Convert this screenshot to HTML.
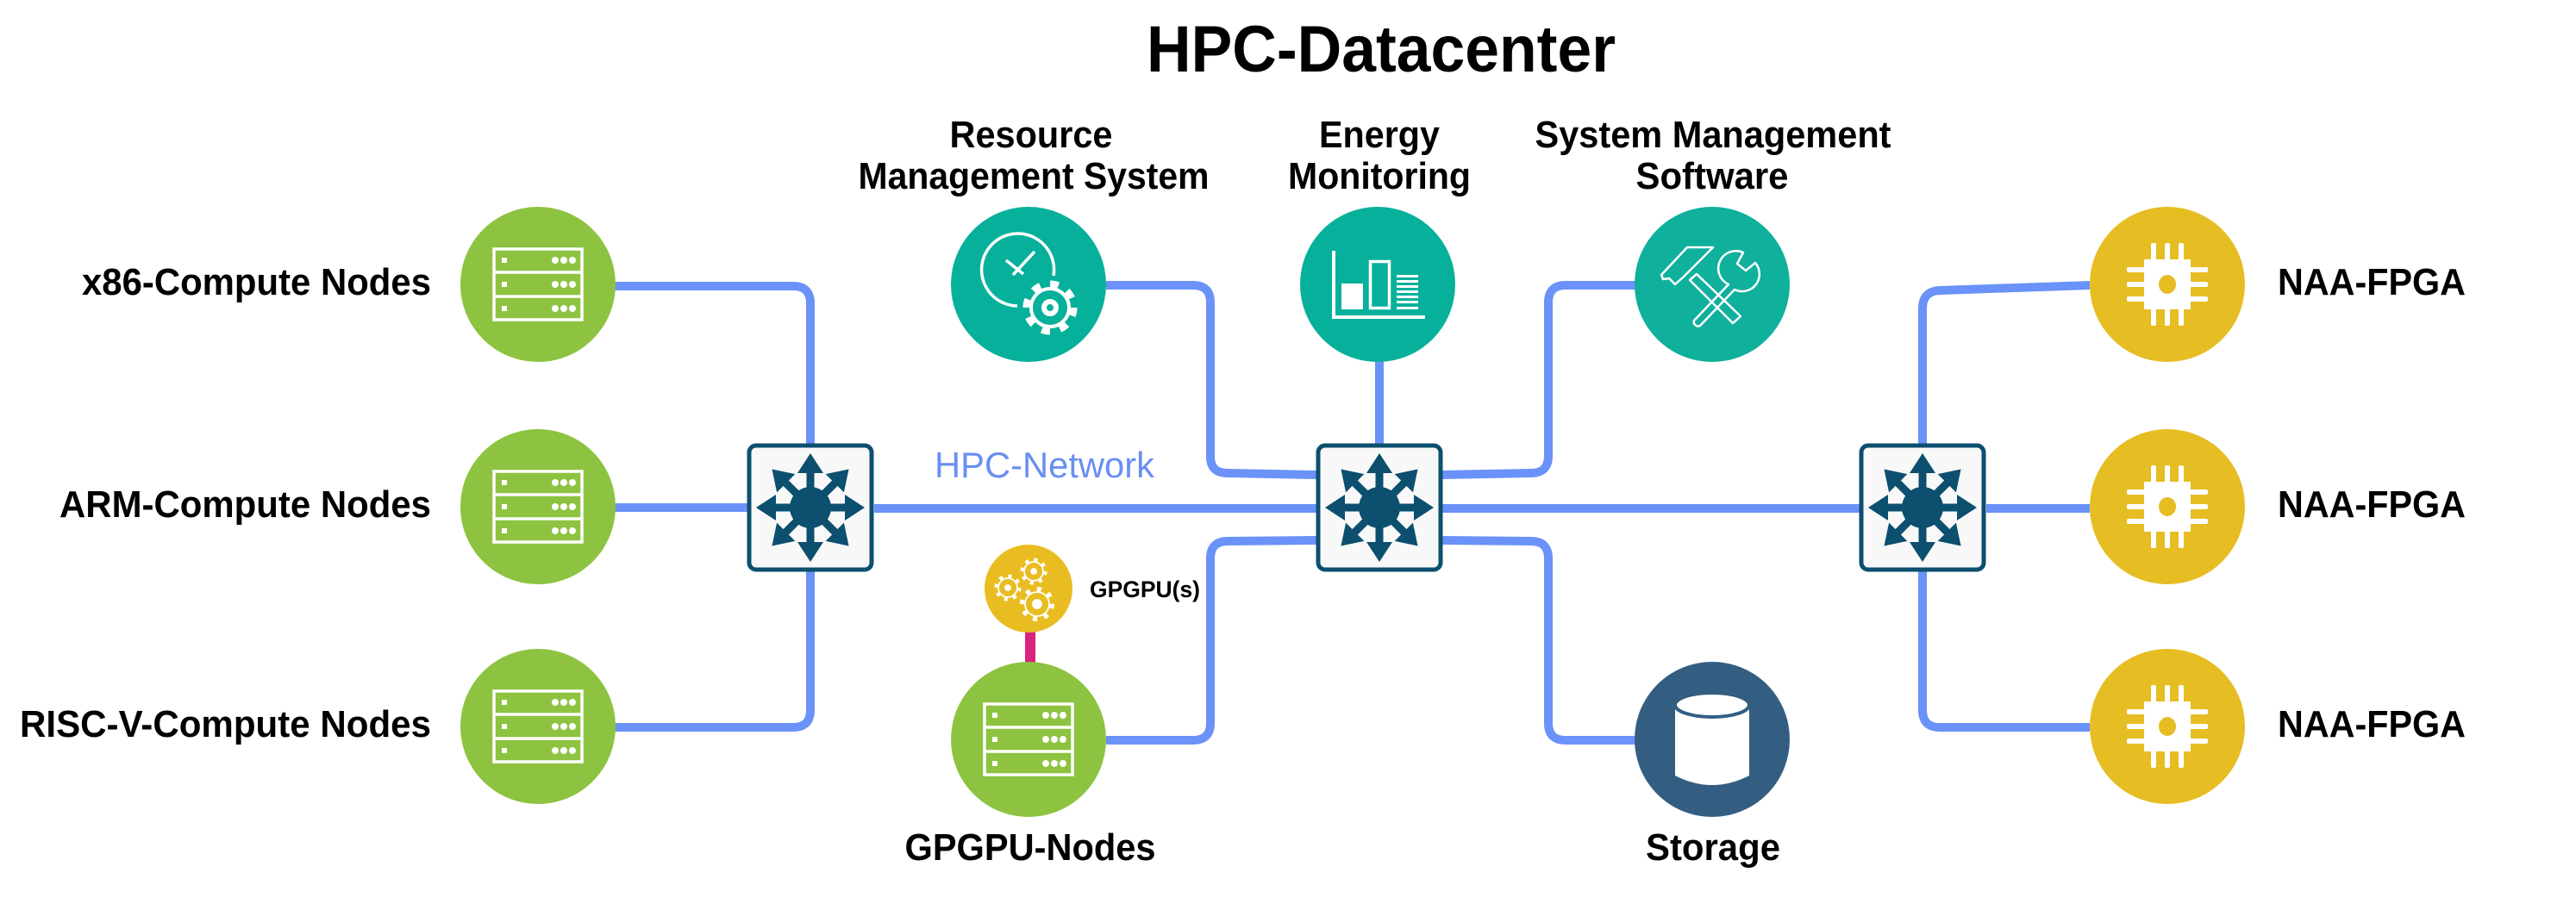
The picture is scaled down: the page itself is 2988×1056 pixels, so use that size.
<!DOCTYPE html>
<html><head><meta charset="utf-8"><style>
html,body{margin:0;padding:0;background:#fff;}
svg{display:block}
text{font-family:"Liberation Sans",Arial,sans-serif;font-weight:bold;fill:#000}
</style></head><body>
<svg width="2988" height="1056" viewBox="0 0 2988 1056" xmlns="http://www.w3.org/2000/svg">
<defs>
 <g id="arrow"><rect x="0" y="-4.5" width="44" height="9"/><polygon points="40,-15 63,0 40,15"/></g>
 <g id="sw">
  <rect x="-71" y="-72" width="142" height="144" rx="8" fill="#f8f8f8" stroke="#0c4f6f" stroke-width="5"/>
  <g fill="#0c4f6f">
   <circle r="24"/>
   <use href="#arrow"/><use href="#arrow" transform="rotate(45)"/><use href="#arrow" transform="rotate(90)"/><use href="#arrow" transform="rotate(135)"/>
   <use href="#arrow" transform="rotate(180)"/><use href="#arrow" transform="rotate(225)"/><use href="#arrow" transform="rotate(270)"/><use href="#arrow" transform="rotate(315)"/>
  </g>
 </g>
 <g id="srv" fill="none" stroke="#fff" stroke-width="3.5">
  <rect x="-51" y="-41" width="102" height="82"/>
  <line x1="-51" y1="-14" x2="51" y2="-14"/><line x1="-51" y1="14" x2="51" y2="14"/>
  <g fill="#fff" stroke="none">
   <rect x="-42" y="-31" width="6" height="6"/><rect x="-42" y="-3" width="6" height="6"/><rect x="-42" y="25" width="6" height="6"/>
   <circle cx="20" cy="-28" r="4"/><circle cx="30" cy="-28" r="4"/><circle cx="40" cy="-28" r="4"/>
   <circle cx="20" cy="0" r="4"/><circle cx="30" cy="0" r="4"/><circle cx="40" cy="0" r="4"/>
   <circle cx="20" cy="28" r="4"/><circle cx="30" cy="28" r="4"/><circle cx="40" cy="28" r="4"/>
  </g>
 </g>
 <g id="chip" fill="#fff">
  <rect x="-27" y="-29" width="54" height="58"/>
  <rect x="-19" y="-48" width="6" height="22" rx="2"/><rect x="-3" y="-48" width="6" height="22" rx="2"/><rect x="13" y="-48" width="6" height="22" rx="2"/>
  <rect x="-19" y="26" width="6" height="22" rx="2"/><rect x="-3" y="26" width="6" height="22" rx="2"/><rect x="13" y="26" width="6" height="22" rx="2"/>
  <rect x="-47" y="-20" width="22" height="6" rx="2"/><rect x="-47" y="-3" width="22" height="6" rx="2"/><rect x="-47" y="14" width="22" height="6" rx="2"/>
  <rect x="25" y="-20" width="22" height="6" rx="2"/><rect x="25" y="-3" width="22" height="6" rx="2"/><rect x="25" y="14" width="22" height="6" rx="2"/>
  <ellipse cx="0" cy="0" rx="10" ry="11" fill="#e6bd22"/>
 </g>
</defs>

<!-- connectors -->
<g fill="none" stroke="#6a92f8" stroke-width="10" stroke-linejoin="round">
 <path d="M713 332 H920 Q940 332 940 352 V515"/>
 <path d="M713 589 H867"/>
 <path d="M713 844 H920 Q940 844 940 824 V663"/>
 <path d="M1014 590 H1527"/>
 <path d="M1673 590 H2157"/>
 <path d="M2304 590 H2424"/>
 <path d="M1283 331 H1384 Q1404 331 1404 351 V530 Q1404 549 1424 549 L1527 551"/>
 <path d="M1600 419 V516"/>
 <path d="M1673 551 L1776 549 Q1796 549 1796 529 V351 Q1796 331 1816 331 H1897"/>
 <path d="M1527 627 L1424 628 Q1404 628 1404 648 V839 Q1404 859 1384 859 H1283"/>
 <path d="M1673 627 L1776 628 Q1796 628 1796 648 V839 Q1796 859 1816 859 H1897"/>
 <path d="M2424 331 L2250 337 Q2230 338 2230 358 V516"/>
 <path d="M2424 844 H2250 Q2230 844 2230 824 V663"/>
</g>
<line x1="1195" y1="732" x2="1195" y2="770" stroke="#d9237f" stroke-width="12"/>

<!-- switches -->
<use href="#sw" x="940" y="589"/>
<use href="#sw" x="1600" y="589"/>
<use href="#sw" x="2230" y="589"/>

<!-- green compute nodes -->
<circle cx="624" cy="330" r="90" fill="#8dc340"/><use href="#srv" x="624" y="330"/>
<circle cx="624" cy="588" r="90" fill="#8dc340"/><use href="#srv" x="624" y="588"/>
<circle cx="624" cy="843" r="90" fill="#8dc340"/><use href="#srv" x="624" y="843"/>
<circle cx="1193" cy="858" r="90" fill="#8dc340"/><use href="#srv" x="1193" y="858"/>

<!-- fpga -->
<circle cx="2514" cy="330" r="90" fill="#e6bd22"/><use href="#chip" x="2514" y="330"/>
<circle cx="2514" cy="588" r="90" fill="#e6bd22"/><use href="#chip" x="2514" y="588"/>
<circle cx="2514" cy="843" r="90" fill="#e6bd22"/><use href="#chip" x="2514" y="843"/>

<!-- resource mgmt -->
<circle cx="1193" cy="330" r="90" fill="#07b09b"/>
<g fill="none" stroke="#fff" stroke-width="3.5">
 <path d="M1180 355 A42 42 0 1 1 1222 320"/>
 <line x1="1167" y1="302" x2="1187" y2="318"/><line x1="1200" y1="292" x2="1175" y2="319"/>
 <circle cx="1218" cy="357" r="22" stroke-width="4"/>
 <circle cx="1218" cy="357" r="27" stroke-width="9" stroke-dasharray="9.6 11.6"/>
 <circle cx="1218" cy="357" r="7" stroke-width="6"/>
</g>

<!-- energy -->
<circle cx="1598" cy="330" r="90" fill="#07b09b"/>
<g fill="#fff">
 <rect x="1545" y="291" width="4" height="78"/><rect x="1545" y="366" width="108" height="4"/>
 <rect x="1556" y="329" width="25" height="30"/>
 <rect x="1589.5" y="303.5" width="22" height="54" fill="none" stroke="#fff" stroke-width="3.5"/>
 <rect x="1620" y="319" width="25" height="3"/><rect x="1620" y="325" width="25" height="3"/><rect x="1620" y="331" width="25" height="3"/>
 <rect x="1620" y="337" width="25" height="3"/><rect x="1620" y="343" width="25" height="3"/><rect x="1620" y="349" width="25" height="3"/><rect x="1620" y="356" width="25" height="3"/>
</g>

<!-- system mgmt -->
<circle cx="1986" cy="330" r="90" fill="#0fb09c"/>
<g fill="none" stroke="#fff" stroke-width="2.5" stroke-linejoin="round">
 <polygon points="1927,319 1957,287 1987,287 1952,322 1943,330 1936,323 1929,324"/>
 <polygon points="1960,325 1968,318 2019,367 2010,375"/>
 <path d="M1965 372 L2005 330 A20 20 0 0 1 2022 293 L2015 306 L2025 314 L2036 305 A20 20 0 0 1 2012 336 L1972 378 A5 5 0 0 1 1965 372 Z"/>
</g>

<!-- storage -->
<circle cx="1986" cy="858" r="90" fill="#335e82"/>
<path d="M1943 818 V900 Q1986 922 2029 900 V818 Z" fill="#fff"/>
<ellipse cx="1986" cy="818" rx="43" ry="14" fill="#fff" stroke="#335e82" stroke-width="4"/>

<!-- gpgpu small -->
<circle cx="1193" cy="683" r="51" fill="#e9bd21"/>
<g fill="none" stroke="#fff" stroke-width="1.8">
 <circle cx="1199" cy="663" r="11"/><circle cx="1199" cy="663" r="13" stroke-width="5" stroke-dasharray="4 6.2"/><circle cx="1199" cy="663" r="3" fill="#fff"/>
 <circle cx="1169" cy="682" r="11"/><circle cx="1169" cy="682" r="13" stroke-width="5" stroke-dasharray="4 6.2"/><circle cx="1169" cy="682" r="3" fill="#fff"/>
 <circle cx="1203" cy="701" r="14"/><circle cx="1203" cy="701" r="17" stroke-width="6" stroke-dasharray="5 8.3"/><circle cx="1203" cy="701" r="5" fill="#fff"/>
</g>

<!-- labels -->
<text x="1602" y="83" text-anchor="middle" font-size="76" textLength="544" lengthAdjust="spacingAndGlyphs">HPC-Datacenter</text>
<text x="500" y="342" text-anchor="end" font-size="44" textLength="405" lengthAdjust="spacingAndGlyphs">x86-Compute Nodes</text>
<text x="500" y="600" text-anchor="end" font-size="44" textLength="431" lengthAdjust="spacingAndGlyphs">ARM-Compute Nodes</text>
<text x="500" y="855" text-anchor="end" font-size="44" textLength="477" lengthAdjust="spacingAndGlyphs">RISC-V-Compute Nodes</text>
<text x="1196" y="171" text-anchor="middle" font-size="44" textLength="189" lengthAdjust="spacingAndGlyphs">Resource</text>
<text x="1199" y="219" text-anchor="middle" font-size="44" textLength="407" lengthAdjust="spacingAndGlyphs">Management System</text>
<text x="1600" y="171" text-anchor="middle" font-size="44" textLength="140" lengthAdjust="spacingAndGlyphs">Energy</text>
<text x="1600" y="219" text-anchor="middle" font-size="44" textLength="212" lengthAdjust="spacingAndGlyphs">Monitoring</text>
<text x="1987" y="171" text-anchor="middle" font-size="44" textLength="413" lengthAdjust="spacingAndGlyphs">System Management</text>
<text x="1986" y="219" text-anchor="middle" font-size="44" textLength="177" lengthAdjust="spacingAndGlyphs">Software</text>
<text x="1195" y="998" text-anchor="middle" font-size="44" textLength="291" lengthAdjust="spacingAndGlyphs">GPGPU-Nodes</text>
<text x="1987" y="998" text-anchor="middle" font-size="44" textLength="156" lengthAdjust="spacingAndGlyphs">Storage</text>
<text x="1264" y="693" font-size="27" textLength="128" lengthAdjust="spacingAndGlyphs">GPGPU(s)</text>
<text x="1084" y="554" font-size="42" font-weight="normal" style="font-weight:normal;fill:#6a8ff2" textLength="255" lengthAdjust="spacingAndGlyphs">HPC-Network</text>
<text x="2642" y="342" font-size="44" textLength="218" lengthAdjust="spacingAndGlyphs">NAA-FPGA</text>
<text x="2642" y="600" font-size="44" textLength="218" lengthAdjust="spacingAndGlyphs">NAA-FPGA</text>
<text x="2642" y="855" font-size="44" textLength="218" lengthAdjust="spacingAndGlyphs">NAA-FPGA</text>
</svg>
</body></html>
